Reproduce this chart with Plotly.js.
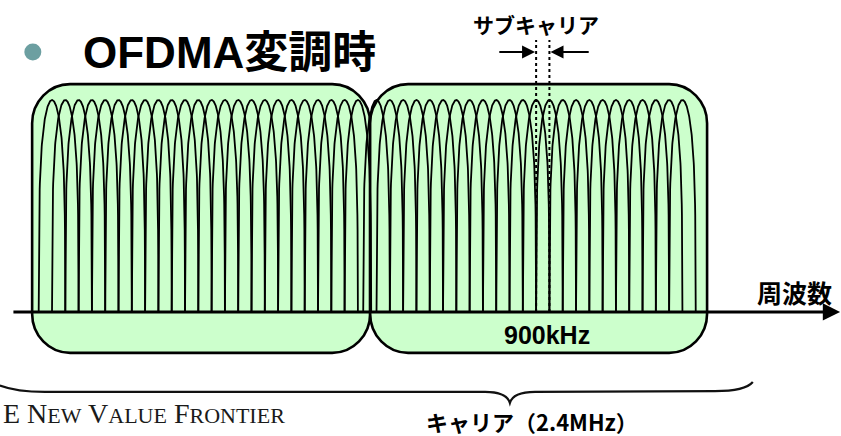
<!DOCTYPE html>
<html><head><meta charset="utf-8">
<script src="https://cdn.plot.ly/plotly-3.0.1.min.js"></script>
<style>html,body{margin:0;padding:0;background:#fff}#chart{width:841px;height:436px}</style>
</head><body><div id="chart"></div>
<script>
// ---- data (frequency in kHz, amplitude normalised to the subcarrier peak) ----
const subcarrierSpacingKHz = 37.5;
const subcarriersA = [0, 37.5, 75, 112.5, 150, 187.5, 225, 262.5, 300, 337.5, 375, 412.5,
  450, 487.5, 525, 562.5, 600, 637.5, 675, 712.5, 750, 787.5, 825, 862.5];
const subcarriersB = [915, 952.5, 990, 1027.5, 1065, 1102.5, 1140, 1177.5, 1215, 1252.5, 1290, 1327.5,
  1365, 1402.5, 1440, 1477.5, 1515, 1552.5, 1590, 1627.5, 1665, 1702.5, 1740, 1777.5];
const peakLevel = 1.0;
const dynamicRangeDb = 52;
const carrierStart = [-56, 897];
const carrierEnd = [897, 1847];
const carrierTop = 1.075;
const carrierBottom = -0.193;
const markedIndex = [12, 13];
const axisStart = -113, axisEnd = 2222;
const braceStart = -147, braceTip = 1291, braceEnd = 1976;
const braceLevel = -0.377, braceTipLevel = -0.429;

const titleText = 'OFDMA変調時';
const subcarrierLabel = 'サブキャリア';
const freqLabel = '周波数';
const bandLabel = '900kHz';
const carrierLabel = 'キャリア（2.4MHz）';

// ---- build traces ----
function lobeTrace(centers) {
  const xs = [], ys = [];
  centers.forEach(c => {
    for (let i = 0; i <= 160; i++) {
      const u = -1 + i / 80;
      const s = Math.abs(u) < 1e-9 ? 1 : Math.sin(Math.PI * u) / (Math.PI * u);
      const db = 20 * Math.log10(Math.max(Math.abs(s), 1e-12));
      xs.push(c + u * subcarrierSpacingKHz);
      ys.push(Math.max(0, peakLevel * (1 + db / dynamicRangeDb)));
    }
    xs.push(null); ys.push(null);
  });
  return {x: xs, y: ys, type: 'scatter', mode: 'lines', hoverinfo: 'skip',
    line: {color: '#000', width: 1.8}, cliponaxis: false};
}

const traces = [
  lobeTrace(subcarriersA),
  lobeTrace(subcarriersB),
  {x: [-54], y: [1.226], type: 'scatter', mode: 'markers', hoverinfo: 'skip',
   marker: {size: 17, color: '#6c9fa1'}}
];

function roundedRect(x0, x1, y0, y1, rx, ry) {
  const k = 0.4477;
  return `M${x0 + rx},${y1} L${x1 - rx},${y1} C${x1 - rx * k},${y1} ${x1},${y1 - ry * k} ${x1},${y1 - ry} ` +
    `L${x1},${y0 + ry} C${x1},${y0 + ry * k} ${x1 - rx * k},${y0} ${x1 - rx},${y0} ` +
    `L${x0 + rx},${y0} C${x0 + rx * k},${y0} ${x0},${y0 + ry * k} ${x0},${y0 + ry} ` +
    `L${x0},${y1 - ry} C${x0},${y1 - ry * k} ${x0 + rx * k},${y1} ${x0 + rx},${y1} Z`;
}

const shapes = [];
carrierStart.forEach((s, i) => {
  shapes.push({type: 'path', xref: 'x', yref: 'y', layer: 'below',
    path: roundedRect(s, carrierEnd[i], carrierBottom, carrierTop, 107, 0.185),
    fillcolor: '#ccffcc', line: {color: '#000', width: 2.6}});
});
markedIndex.forEach(i => {
  shapes.push({type: 'line', xref: 'x', yref: 'y', layer: 'above',
    x0: subcarriersB[i], x1: subcarriersB[i], y0: 0, y1: 1.283,
    line: {color: '#000', width: 2, dash: 'dot'}});
});
// brace
const bp = `M${braceStart},${braceLevel + 0.03} C${braceStart + 28},${braceLevel + 0.012} ${braceStart + 71},${braceLevel} ${braceStart + 127},${braceLevel} ` +
  `L${braceTip - 70},${braceLevel} C${braceTip - 28},${braceLevel} ${braceTip - 6},${braceLevel - 0.019} ${braceTip},${braceTipLevel} ` +
  `C${braceTip + 6},${braceLevel - 0.019} ${braceTip + 28},${braceLevel} ${braceTip + 71},${braceLevel} ` +
  `L${braceEnd - 107},${braceLevel + 0.004} C${braceEnd - 51},${braceLevel + 0.004} ${braceEnd - 14},${braceLevel + 0.019} ${braceEnd},${braceLevel + 0.047}`;
shapes.push({type: 'path', xref: 'x', yref: 'y', layer: 'above', path: bp,
  line: {color: '#111', width: 2.2}});

const jp = 'Noto Sans CJK JP, sans-serif';
const annotations = [
  {x: axisEnd, y: 0, ax: axisStart, ay: 0, axref: 'x', ayref: 'y', xref: 'x', yref: 'y',
   text: '', showarrow: true, arrowhead: 2, arrowsize: 1.15, arrowwidth: 3, arrowcolor: '#000', standoff: 0},
  {x: subcarriersB[markedIndex[0]] - 3, y: 1.226, ax: subcarriersB[markedIndex[0]] - 108, ay: 1.226,
   axref: 'x', ayref: 'y', xref: 'x', yref: 'y', text: '', showarrow: true,
   arrowhead: 2, arrowsize: 1.3, arrowwidth: 2, arrowcolor: '#000', standoff: 0},
  {x: subcarriersB[markedIndex[1]] + 3, y: 1.226, ax: subcarriersB[markedIndex[1]] + 115, ay: 1.226,
   axref: 'x', ayref: 'y', xref: 'x', yref: 'y', text: '', showarrow: true,
   arrowhead: 2, arrowsize: 1.3, arrowwidth: 2, arrowcolor: '#000', standoff: 0},
  {x: 82, y: 1.226, xref: 'x', yref: 'y', xanchor: 'left', yanchor: 'middle', showarrow: false,
   text: titleText, font: {family: 'Liberation Sans, Noto Sans CJK JP, sans-serif', size: 44, weight: 700, color: '#000'}},
  {x: 1365, y: 1.36, xref: 'x', yref: 'y', xanchor: 'center', yanchor: 'middle', showarrow: false,
   text: subcarrierLabel, font: {family: jp, size: 21, weight: 700, color: '#000'}},
  {x: 2093, y: 0.094, xref: 'x', yref: 'y', xanchor: 'center', yanchor: 'middle', showarrow: false,
   text: freqLabel, font: {family: jp, size: 25, weight: 700, color: '#000'}},
  {x: 1396, y: -0.108, xref: 'x', yref: 'y', xanchor: 'center', yanchor: 'middle', showarrow: false,
   text: bandLabel, font: {family: 'Liberation Sans, sans-serif', size: 25, weight: 700, color: '#000'}},
  {x: 1352, y: -0.514, xref: 'x', yref: 'y', xanchor: 'center', yanchor: 'middle', showarrow: false,
   text: carrierLabel, font: {family: jp, size: 22, weight: 700, color: '#000'}},
  {x: 0, y: -0.48, xref: 'paper', yref: 'y', xanchor: 'left', yanchor: 'middle', xshift: 1, showarrow: false,
   text: 'E N<span style="font-size:22px">EW</span> V<span style="font-size:22px">ALUE</span> F<span style="font-size:22px">RONTIER</span>',
   font: {family: 'Liberation Serif, serif', size: 28, color: '#1a1a1a'}}
];

const layout = {
  width: 841, height: 436,
  margin: {l: 0, r: 0, t: 0, b: 0, pad: 0},
  paper_bgcolor: '#fff', plot_bgcolor: '#fff',
  showlegend: false,
  xaxis: {range: [-146.6, 2224.6], visible: false, fixedrange: true},
  yaxis: {range: [-0.585, 1.4717], visible: false, fixedrange: true},
  shapes: shapes, annotations: annotations
};
Plotly.newPlot('chart', traces, layout, {staticPlot: true, displayModeBar: false});
</script></body></html>
